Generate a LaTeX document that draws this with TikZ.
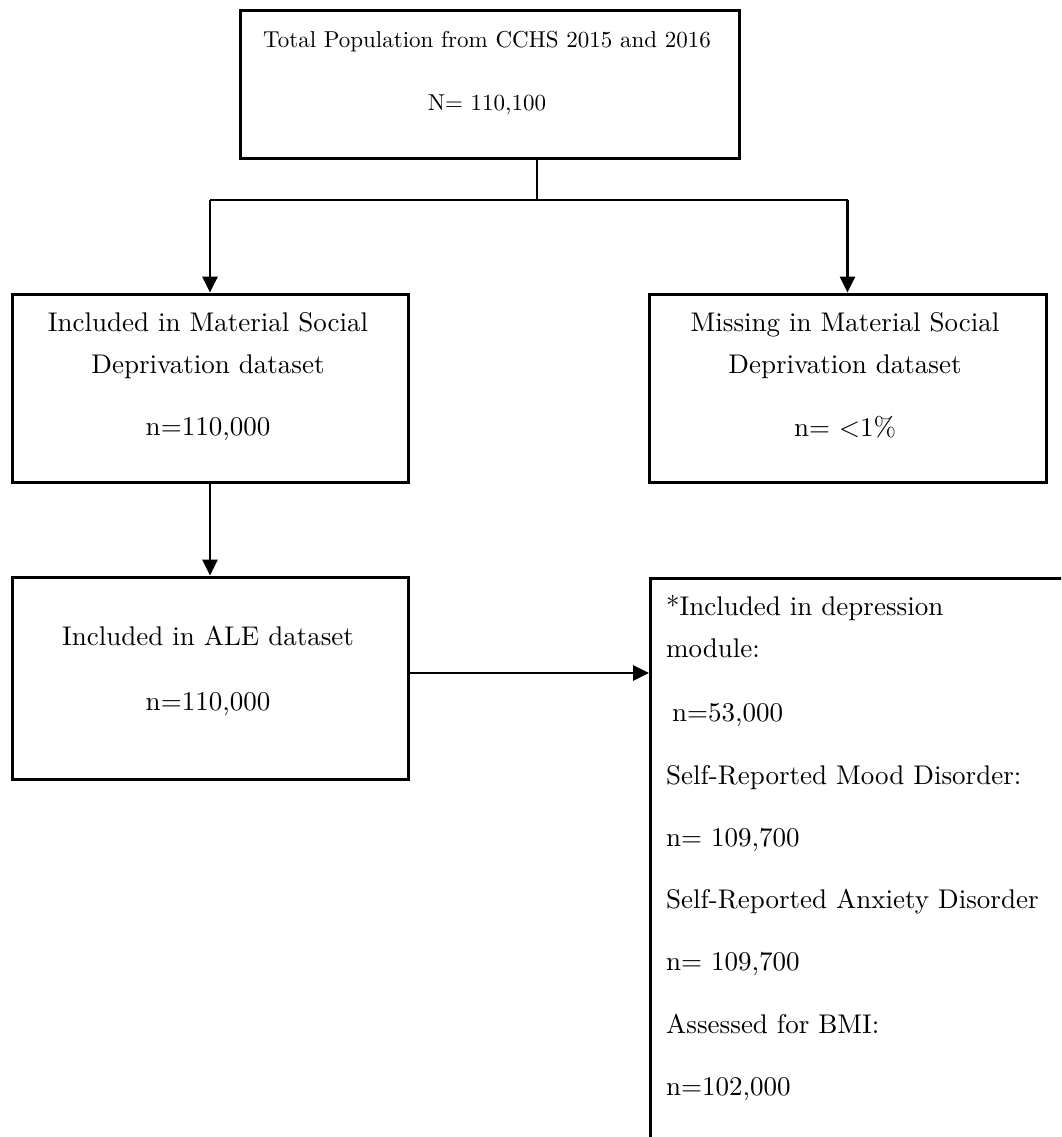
\documentclass[tikz,border=0pt]{standalone}
\usepackage{fontspec}
\setmainfont{lmroman10-regular.otf}
\usetikzlibrary{arrows.meta,calc}
\begin{document}
\begin{tikzpicture}[x=1pt,y=-1pt,
  box/.style={draw=black,line width=3pt,rectangle,inner sep=0pt},
  conn/.style={draw=black,line width=2.8pt},
  arr/.style={conn,-{Triangle[length=16pt,width=15pt]}},
  bigtxt/.style={font=\fontsize{27}{32}\selectfont,inner sep=0pt,anchor=mid},
  toptxt/.style={font=\fontsize{23}{28}\selectfont,inner sep=0pt,anchor=mid},
  lefttxt/.style={font=\fontsize{27}{32}\selectfont,inner sep=0pt,anchor=mid west}]
\useasboundingbox (0,0) rectangle (1061,1137);
\clip (0,0) rectangle (1061,1137);
\fill[white] (0,0) rectangle (1061,1137);

% boxes
\node[box,minimum width=499pt,minimum height=147pt] (top) at (489.5,84.5) {};
\node[box,minimum width=396pt,minimum height=188pt] (inc) at (210,388) {};
\node[box,minimum width=397pt,minimum height=188pt] (mis) at (847.5,388) {};
\node[box,minimum width=396pt,minimum height=202pt] (ale) at (210,678) {};
\node[box,minimum width=470pt,minimum height=640pt,anchor=north west] (dep) at (649,577) {};

% texts
\node[toptxt] (t1) at (487,45) {Total Population from CCHS 2015 and 2016};
\node[toptxt] (t2) at (487,108) {N= 110,100};

\node[bigtxt] (i1) at (208,329) {Included in Material Social};
\node[bigtxt] (i2) at (208,371) {Deprivation dataset};
\node[bigtxt] (i3) at (208,433) {n=110,000};

\node[bigtxt] (m1) at (845,329) {Missing in Material Social};
\node[bigtxt] (m2) at (845,371) {Deprivation dataset};
\node[bigtxt] (m3) at (845,434) {n= <1\%};

\node[bigtxt] (a1) at (208,643) {Included in ALE dataset};
\node[bigtxt] (a2) at (208,708) {n=110,000};

\node[lefttxt] (d1) at (666,613) {*Included in depression};
\node[lefttxt] (d2) at (666,655) {module:};
\node[lefttxt] (d3) at (672,719) {n=53,000};
\node[lefttxt] (d4) at (666,782) {Self-Reported Mood Disorder:};
\node[lefttxt] (d5) at (666,844) {n= 109,700};
\node[lefttxt] (d6) at (666,906) {Self-Reported Anxiety Disorder};
\node[lefttxt] (d7) at (666,968) {n= 109,700};
\node[lefttxt] (d8) at (666,1031) {Assessed for BMI:};
\node[lefttxt] (d9) at (666,1093) {n=102,000};

% connectors
\coordinate (j) at (537,200);
\draw[conn] (top.south -| j) -- (j);
\draw[conn] (inc.north |- j) -- (mis.north |- j);
\draw[arr] (inc.north |- j) -- (inc.north);
\draw[arr] (mis.north |- j) -- (mis.north);
\draw[arr] (inc.south) -- (ale.north);
\draw[arr] ([yshift=5pt]ale.east) -- ([yshift=5pt]ale.east -| dep.west);
\end{tikzpicture}
\end{document}
